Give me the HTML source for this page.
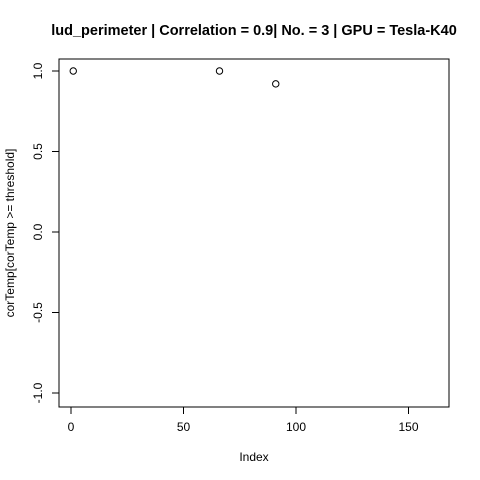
<!DOCTYPE html>
<html><head><meta charset="utf-8"><style>
html,body{margin:0;padding:0;background:#fff;}
svg{display:block;font-family:"Liberation Sans",sans-serif;}
</style></head><body>
<svg id="chart" width="480" height="480">
<text x="254" y="35" text-anchor="middle" font-size="14.5" font-weight="bold">lud_perimeter | Correlation = 0.9| No. = 3 | GPU = Tesla-K40</text>
<rect x="59" y="59" width="390" height="348" fill="none" stroke="#000"/>
<g id="xaxis"></g>
<g id="yaxis"></g>
<g id="points"></g>
<text x="254" y="461" text-anchor="middle" font-size="12">Index</text>
<text transform="translate(14,233) rotate(-90)" text-anchor="middle" font-size="12">corTemp[corTemp &gt;= threshold]</text>
</svg>
<script>
const xIndex = [1, 66, 91];
const yValues = [1.0, 1.0, 0.92];
const xTicks = [0, 50, 100, 150];
const yTicks = [-1.0, -0.5, 0.0, 0.5, 1.0];
const yTickLabels = ["-1.0", "-0.5", "0.0", "0.5", "1.0"];
const NS = "http://www.w3.org/2000/svg";
function sx(v){return 71 + v*2.25;}
function sy(v){return 232 - v*161;}
function mk(tag, attrs, parent){const e=document.createElementNS(NS,tag);for(const k in attrs)e.setAttribute(k,attrs[k]);parent.appendChild(e);return e;}
const xa=document.getElementById('xaxis'), ya=document.getElementById('yaxis'), pts=document.getElementById('points');
mk('line',{x1:sx(xTicks[0]),x2:sx(xTicks[xTicks.length-1]),y1:407,y2:407,stroke:'#000'},xa);
xTicks.forEach(t=>{
  const l=mk('line',{x1:sx(t),x2:sx(t),y1:407,y2:414,stroke:'#000'},xa);
  
  
  const tx=mk('text',{x:sx(t),y:431,'text-anchor':'middle','font-size':12},xa);
  tx.textContent=t;
  
  
});
mk('line',{x1:59,x2:59,y1:sy(yTicks[0]),y2:sy(yTicks[yTicks.length-1]),stroke:'#000'},ya);
yTicks.forEach((t,i)=>{
  const l=mk('line',{x1:52,x2:59,y1:sy(t),y2:sy(t),stroke:'#000'},ya);
  
  
  const tx=mk('text',{transform:`translate(42,${sy(t)}) rotate(-90)`,'text-anchor':'middle','font-size':12},ya);
  tx.textContent=yTickLabels[i];
  
  
});
xIndex.forEach((x,i)=>{
  const c=mk('circle',{cx:sx(x),cy:sy(yValues[i]),r:3.2,fill:'none',stroke:'#000'},pts);
  
  
});
</script>
</body></html>
